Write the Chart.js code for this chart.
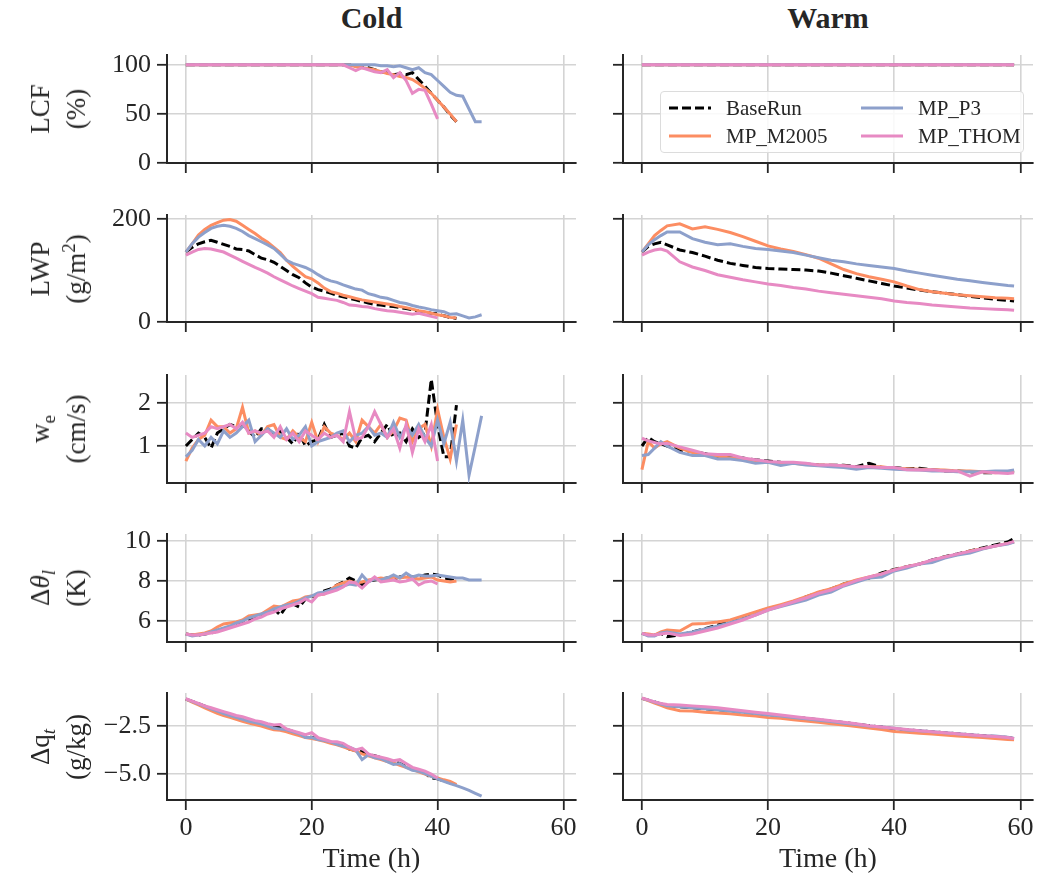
<!DOCTYPE html>
<html>
<head>
<meta charset="UTF-8">
<title>Cold / Warm microphysics runs</title>
<script src="https://cdn.jsdelivr.net/npm/chart.js@4.4.0/dist/chart.umd.min.js"></script>
<style>
    body { margin: 0; background: #fff; font-family: 'Liberation Serif', 'Times New Roman', serif; color: #262626; }
    #fig { position: relative; width: 1039px; height: 883px; overflow: hidden; }
    canvas { position: absolute; }
    .title { position: absolute; font-weight: bold; font-size: 30px; transform: translate(-50%, -50%); white-space: nowrap; }
    .xlab { position: absolute; font-size: 28px; transform: translate(-50%, -50%); white-space: nowrap; }
    .ylab { position: absolute; font-size: 27px; line-height: 36px; text-align: center; white-space: nowrap;
            transform: translate(-50%, -50%) rotate(-90deg); }
    .ylab sub, .ylab sup { font-size: 70%; line-height: 0; }
    .legend { position: absolute; border: 1px solid #dcdcdc; border-radius: 4px; background: rgba(255,255,255,0.85); font-size: 21px; }
    .legend .item { position: absolute; white-space: nowrap; transform: translateY(-50%); }
    .legend svg { position: absolute; }
</style>
</head>
<body>
<div id="fig"></div>

<script>
    const seriesNames = ['BaseRun', 'MP_M2005', 'MP_P3', 'MP_THOM'];
    const seriesColors = ['#000000', '#fc8d62', '#8da0cb', '#e78ac3'];
    const seriesDash = [[9, 4], [], [], []];

    const xTicks = [0, 20, 40, 60];
    const hoursCold = [0,1,2,3,4,5,6,7,8,9,10,11,12,13,14,15,16,17,18,19,20,21,22,23,24,25,26,27,28,29,30,31,32,33,34,35,36,37,38,39,40,41,42,43,44,45,46,47];
    const hoursWarm = [0,1,2,3,4,6,8,10,12,14,16,18,20,22,24,26,28,30,32,34,36,38,40,42,44,46,48,50,52,54,56,58,59];
    const hoursWarmLcf = [0, 59];

    // LCF (%)
    const lcfTicks = [0, 50, 100];
    const lcfTickLabels = ['0', '50', '100'];
    const lcfColdBase  = [100,100,100,100,100,100,100,100,100,100,100,100,100,100,100,100,100,100,100,100,100,100,100,100,100,100,100,99,98,97,95,93,92,90,91,90,92,85,78,71,64,57,49,42];
    const lcfColdM2005 = [100,100,100,100,100,100,100,100,100,100,100,100,100,100,100,100,100,100,100,100,100,100,100,100,100,100,100,98,97,96,95,93,91,90,88,87,85,81,76,71,64,57,50,42];
    const lcfColdP3    = [100,100,100,100,100,100,100,100,100,100,100,100,100,100,100,100,100,100,100,100,100,100,100,100,100,100,100,100,100,100,100,99,99,98,99,97,95,97,92,90,84,78,72,69,68,55,42,42];
    const lcfColdThom  = [100,100,100,100,100,100,100,100,100,100,100,100,100,100,100,100,100,100,100,100,100,100,100,100,100,100,97,94,97,95,93,92,95,87,92,84,71,75,74,60,45];
    const lcfWarmBase  = [100, 100];
    const lcfWarmM2005 = [100, 100];
    const lcfWarmP3    = [100, 100];
    const lcfWarmThom  = [100, 100];

    // LWP (g/m2)
    const lwpTicks = [0, 200];
    const lwpTickLabels = ['0', '200'];
    const lwpColdBase  = [136,145,152,156,159,155,151,147,142,141,138,131,124,121,116,108,100,92,86,76,68,63,60,56,52,49,46,43,40,37,34,33,31,30,28,26,24,21,19,17,16,12,9,7];
    const lwpColdM2005 = [136,152,169,180,188,193,198,199,196,188,180,172,163,155,145,135,120,108,98,88,84,76,66,59,56,52,49,46,43,41,39,37,35,33,30,28,25,22,20,17,14,12,9,8];
    const lwpColdP3    = [136,152,165,174,182,186,188,186,182,176,168,162,156,150,143,132,120,114,110,106,100,92,85,80,77,72,68,64,62,55,52,48,46,42,38,36,32,29,27,24,22,20,15,16,12,8,10,14];
    const lwpColdThom  = [130,136,141,143,142,139,136,130,124,118,112,106,101,95,88,82,76,70,65,60,55,48,46,44,42,38,33,32,30,29,26,24,22,21,19,17,15,17,14,11,8];
    const lwpWarmBase  = [136,147,152,155,150,140,135,128,120,114,110,106,104,103,102,101,99,95,90,85,80,75,70,66,62,59,56,53,50,47,44,42,41];
    const lwpWarmM2005 = [136,152,168,178,187,191,181,185,180,174,166,157,148,142,137,131,124,113,102,94,88,83,78,70,63,59,56,53,51,49,47,46,45];
    const lwpWarmP3    = [136,150,160,168,175,175,162,155,150,152,147,143,141,138,135,130,125,120,117,113,110,107,104,99,95,91,87,83,80,77,74,71,70];
    const lwpWarmThom  = [130,136,140,142,138,117,107,100,92,87,82,78,74,71,67,64,60,57,54,51,48,45,41,38,36,33,31,29,27,26,25,24,23];

    // entrainment rate w_e (cm/s)
    const weTicks = [1, 2];
    const weTickLabels = ['1', '2'];
    const weColdBase  = [1.0,1.15,1.3,1.2,0.95,1.3,1.4,1.5,1.45,1.5,1.35,1.2,1.4,1.4,1.25,1.35,1.2,1.05,1.3,1.0,1.1,1.15,1.5,1.2,1.25,1.3,1.0,0.95,1.2,1.25,1.1,1.3,1.5,1.2,1.3,1.1,1.4,1.2,1.3,2.55,1.5,0.75,0.75,1.95];
    const weColdM2005 = [0.65,0.95,1.15,1.25,1.6,1.45,1.45,1.3,1.4,1.9,1.3,1.35,1.25,1.45,1.5,1.2,1.15,1.35,1.2,1.1,1.55,1.1,1.45,1.3,1.25,1.15,1.3,1.1,1.6,1.45,1.3,1.5,1.2,1.35,1.65,1.6,1.1,1.4,1.5,1.0,1.85,1.2,0.7,1.5];
    const weColdP3    = [0.75,0.9,1.15,1.0,1.2,1.05,1.35,1.2,1.3,1.45,1.6,1.1,1.25,1.4,1.3,1.2,1.4,1.15,1.25,1.45,1.0,1.1,1.15,1.2,1.3,1.35,1.1,1.25,1.3,1.45,1.25,1.3,1.2,1.55,1.2,1.45,1.25,1.5,1.2,1.0,1.6,1.05,1.55,0.65,1.6,0.32,1.0,1.7];
    const weColdThom  = [1.3,1.2,1.25,1.3,1.45,1.4,1.45,1.5,1.4,1.55,1.3,1.35,1.3,1.35,1.2,1.45,1.15,1.3,1.1,1.35,1.25,1.15,1.3,1.2,1.25,1.1,1.8,1.15,1.2,1.45,1.8,1.5,1.2,1.4,0.95,1.5,0.85,1.4,1.1,1.5,0.65];
    const weWarmBase  = [1.0,1.2,1.1,1.05,1.0,0.9,0.88,0.82,0.75,0.72,0.72,0.68,0.65,0.62,0.6,0.58,0.56,0.55,0.55,0.52,0.6,0.5,0.5,0.47,0.48,0.45,0.42,0.42,0.4,0.38,0.38,0.4,0.42];
    const weWarmM2005 = [0.45,1.1,0.95,1.05,1.1,0.95,0.85,0.8,0.76,0.72,0.7,0.66,0.62,0.6,0.6,0.57,0.56,0.55,0.54,0.5,0.52,0.52,0.48,0.47,0.46,0.45,0.44,0.42,0.42,0.4,0.38,0.4,0.4];
    const weWarmP3    = [0.78,0.8,0.95,1.1,1.0,0.85,0.78,0.78,0.7,0.7,0.66,0.6,0.62,0.55,0.6,0.56,0.54,0.52,0.5,0.46,0.5,0.48,0.46,0.45,0.44,0.42,0.42,0.4,0.4,0.4,0.42,0.42,0.44];
    const weWarmThom  = [1.18,1.12,1.08,1.05,1.06,0.98,0.9,0.82,0.8,0.8,0.72,0.68,0.64,0.62,0.62,0.6,0.56,0.56,0.54,0.52,0.52,0.5,0.5,0.45,0.44,0.45,0.42,0.42,0.3,0.4,0.38,0.36,0.38];

    // inversion jump of theta_l (K)
    const dthTicks = [6, 8, 10];
    const dthTickLabels = ['6', '8', '10'];
    const dthColdBase  = [5.35,5.3,5.3,5.35,5.4,5.5,5.6,5.7,5.8,5.95,6.05,6.15,6.3,6.45,6.6,6.3,6.75,6.85,6.7,7.1,7.2,7.35,7.5,7.6,7.8,7.95,8.15,8.0,7.8,8.0,8.05,8.1,8.15,8.1,8.2,8.25,8.2,8.2,8.3,8.35,8.3,8.15,8.1,8.05];
    const dthColdM2005 = [5.35,5.3,5.35,5.4,5.5,5.7,5.85,5.9,5.95,6.05,6.25,6.3,6.35,6.55,6.75,6.7,6.85,7.0,7.05,7.2,7.25,7.3,7.35,7.55,7.8,7.9,8.0,7.9,7.95,8.05,8.1,8.15,8.1,8.2,8.15,8.2,8.15,8.1,8.15,8.2,8.05,8.0,7.95,8.0];
    const dthColdP3    = [5.35,5.25,5.3,5.35,5.45,5.55,5.65,5.75,5.9,6.0,6.15,6.25,6.35,6.45,6.6,6.7,6.8,6.85,7.0,7.15,7.25,7.4,7.45,7.55,7.65,7.75,7.85,7.8,8.3,7.95,8.1,8.05,8.15,8.3,8.15,8.4,8.2,8.3,8.25,8.25,8.3,8.25,8.2,8.15,8.15,8.05,8.05,8.05];
    const dthColdThom  = [5.35,5.3,5.3,5.35,5.4,5.45,5.55,5.65,5.75,5.85,5.95,6.1,6.2,6.35,6.45,6.6,6.7,6.8,6.9,7.1,6.95,7.3,7.35,7.45,7.55,7.7,7.95,7.9,7.65,7.95,8.2,7.95,8.0,8.05,7.95,8.0,8.1,7.8,7.95,8.0,7.85];
    const dthWarmBase  = [5.38,5.3,5.3,5.38,5.22,5.3,5.45,5.62,5.8,6.0,6.2,6.42,6.62,6.78,6.95,7.2,7.42,7.6,7.85,8.02,8.15,8.4,8.58,8.72,8.85,9.05,9.22,9.35,9.5,9.65,9.8,9.95,10.13];
    const dthWarmM2005 = [5.38,5.35,5.3,5.45,5.55,5.5,5.85,5.88,5.95,6.05,6.25,6.45,6.65,6.82,7.0,7.22,7.45,7.62,7.85,8.05,8.2,8.35,8.55,8.72,8.85,9.02,9.2,9.32,9.5,9.62,9.75,9.88,9.95];
    const dthWarmP3    = [5.38,5.25,5.25,5.4,5.45,5.35,5.45,5.6,5.75,5.92,6.1,6.3,6.55,6.72,6.88,7.05,7.3,7.45,7.75,7.95,8.15,8.2,8.5,8.65,8.85,8.92,9.15,9.3,9.4,9.6,9.75,9.85,9.95];
    const dthWarmThom  = [5.38,5.3,5.3,5.35,5.4,5.28,5.35,5.5,5.65,5.85,6.05,6.3,6.55,6.75,6.95,7.15,7.38,7.55,7.78,8.02,8.2,8.35,8.55,8.72,8.85,9.05,9.2,9.35,9.48,9.62,9.75,9.88,9.98];

    // inversion jump of q_t (g/kg)
    const dqTicks = [-5, -2.5];
    const dqTickLabels = ['\u22125.0', '\u22122.5'];
    const dqColdBase  = [-1.1,-1.22,-1.34,-1.46,-1.58,-1.7,-1.8,-1.9,-2.0,-2.08,-2.2,-2.28,-2.35,-2.45,-2.5,-2.6,-2.68,-2.78,-2.88,-3.0,-3.1,-3.15,-3.25,-3.35,-3.42,-3.55,-3.7,-3.78,-3.85,-3.98,-4.05,-4.15,-4.25,-4.35,-4.45,-4.62,-4.72,-4.8,-4.95,-5.2,-5.25,-5.35,-5.45,-5.55];
    const dqColdM2005 = [-1.1,-1.25,-1.4,-1.55,-1.7,-1.84,-1.95,-2.05,-2.15,-2.25,-2.35,-2.42,-2.5,-2.6,-2.7,-2.72,-2.8,-2.9,-3.0,-3.1,-3.15,-3.22,-3.3,-3.4,-3.48,-3.58,-3.7,-3.8,-3.95,-4.05,-4.15,-4.25,-4.35,-4.42,-4.55,-4.65,-4.75,-4.88,-5.0,-5.12,-5.2,-5.3,-5.38,-5.55];
    const dqColdP3    = [-1.1,-1.22,-1.35,-1.48,-1.6,-1.72,-1.85,-1.95,-2.05,-2.15,-2.25,-2.32,-2.4,-2.5,-2.62,-2.65,-2.7,-2.8,-2.9,-3.1,-3.1,-3.2,-3.25,-3.32,-3.45,-3.55,-3.6,-3.75,-4.25,-4.0,-4.15,-4.2,-4.35,-4.5,-4.45,-4.65,-4.8,-4.85,-4.98,-5.12,-5.25,-5.38,-5.5,-5.6,-5.72,-5.85,-6.0,-6.15];
    const dqColdThom  = [-1.08,-1.2,-1.32,-1.45,-1.55,-1.65,-1.75,-1.85,-1.95,-2.02,-2.12,-2.22,-2.28,-2.38,-2.45,-2.42,-2.65,-2.75,-2.85,-2.95,-2.85,-3.1,-3.2,-3.3,-3.32,-3.4,-3.6,-3.75,-3.65,-3.95,-4.05,-4.12,-4.2,-4.3,-4.25,-4.45,-4.65,-4.75,-4.85,-5.0,-5.2];
    const dqWarmBase  = [-1.06,-1.15,-1.25,-1.35,-1.42,-1.5,-1.55,-1.6,-1.65,-1.7,-1.78,-1.85,-1.92,-1.98,-2.05,-2.1,-2.18,-2.25,-2.32,-2.4,-2.48,-2.55,-2.65,-2.7,-2.75,-2.8,-2.85,-2.9,-2.95,-3.0,-3.05,-3.1,-3.15];
    const dqWarmM2005 = [-1.06,-1.17,-1.3,-1.42,-1.55,-1.7,-1.72,-1.78,-1.82,-1.86,-1.92,-1.98,-2.05,-2.1,-2.17,-2.24,-2.3,-2.38,-2.45,-2.52,-2.6,-2.68,-2.78,-2.82,-2.88,-2.92,-2.97,-3.02,-3.06,-3.1,-3.15,-3.2,-3.22];
    const dqWarmP3    = [-1.06,-1.15,-1.25,-1.35,-1.45,-1.5,-1.55,-1.6,-1.65,-1.72,-1.78,-1.85,-1.92,-1.98,-2.05,-2.12,-2.2,-2.27,-2.35,-2.42,-2.5,-2.55,-2.62,-2.7,-2.75,-2.8,-2.85,-2.9,-2.95,-3.0,-3.02,-3.08,-3.15];
    const dqWarmThom  = [-1.04,-1.14,-1.24,-1.32,-1.38,-1.4,-1.45,-1.5,-1.55,-1.62,-1.7,-1.78,-1.85,-1.92,-2.0,-2.08,-2.15,-2.22,-2.3,-2.38,-2.48,-2.55,-2.62,-2.68,-2.75,-2.8,-2.85,-2.9,-2.95,-3.0,-3.05,-3.1,-3.15];

    // 行ごとの設定（位置・軸範囲）
    const rows = [
        { top: 55,  bottom: 163, min: 0,    max: 110,   ticks: lcfTicks, tickLabels: lcfTickLabels,
          label: ['LCF', '(%)'],
          cold: [lcfColdBase, lcfColdM2005, lcfColdP3, lcfColdThom],
          warm: [lcfWarmBase, lcfWarmM2005, lcfWarmP3, lcfWarmThom], warmHours: hoursWarmLcf },
        { top: 215, bottom: 322, min: 0,    max: 208,   ticks: lwpTicks, tickLabels: lwpTickLabels,
          label: ['LWP', '(g/m<sup>2</sup>)'],
          cold: [lwpColdBase, lwpColdM2005, lwpColdP3, lwpColdThom],
          warm: [lwpWarmBase, lwpWarmM2005, lwpWarmP3, lwpWarmThom] },
        { top: 375, bottom: 483, min: 0.14, max: 2.65,  ticks: weTicks, tickLabels: weTickLabels,
          label: ['w<sub>e</sub>', '(cm/s)'],
          cold: [weColdBase, weColdM2005, weColdP3, weColdThom],
          warm: [weWarmBase, weWarmM2005, weWarmP3, weWarmThom] },
        { top: 534, bottom: 642, min: 4.95, max: 10.35, ticks: dthTicks, tickLabels: dthTickLabels,
          label: ['\u0394<i>\u03b8</i><sub><i>l</i></sub>', '(K)'],
          cold: [dthColdBase, dthColdM2005, dthColdP3, dthColdThom],
          warm: [dthWarmBase, dthWarmM2005, dthWarmP3, dthWarmThom] },
        { top: 693, bottom: 800, min: -6.35, max: -0.78, ticks: dqTicks, tickLabels: dqTickLabels,
          label: ['\u0394q<sub><i>t</i></sub>', '(g/kg)'],
          cold: [dqColdBase, dqColdM2005, dqColdP3, dqColdThom],
          warm: [dqWarmBase, dqWarmM2005, dqWarmP3, dqWarmThom] }
    ];

    const cols = [
        { key: 'cold', title: 'Cold', canvasLeft: 90,  canvasRight: 590,  plotLeft: 167, plotRight: 576, yLabels: true },
        { key: 'warm', title: 'Warm', canvasLeft: 611, canvasRight: 1039, plotLeft: 623, plotRight: 1033, yLabels: false }
    ];

    Chart.defaults.font.family = "'Liberation Serif', 'Times New Roman', serif";
    Chart.defaults.font.size = 26;
    Chart.defaults.color = '#262626';

    const gridStyle = { color: '#d4d4d4', lineWidth: 1.6, tickColor: '#262626', tickLength: 10, tickWidth: 1.8, drawTicks: true };
    const borderStyle = { display: true, color: '#262626', width: 2 };

    const fig = document.getElementById('fig');

    rows.forEach((row, r) => {
        const last = r === rows.length - 1;
        cols.forEach(col => {
            const padTop = 14;
            const xAxisH = last ? 58 : 16;
            const w = col.canvasRight - col.canvasLeft;
            const h = padTop + (row.bottom - row.top) + xAxisH;
            const canvas = document.createElement('canvas');
            canvas.width = w;
            canvas.height = h;
            canvas.style.left = col.canvasLeft + 'px';
            canvas.style.top = (row.top - padTop) + 'px';
            canvas.style.width = w + 'px';
            canvas.style.height = h + 'px';
            fig.appendChild(canvas);

            const hours = col.key === 'cold' ? hoursCold : (row.warmHours || hoursWarm);
            const datasets = seriesNames.map((name, i) => ({
                label: name,
                data: row[col.key][i].map((v, k) => ({ x: hours[k], y: v })),
                borderColor: seriesColors[i],
                borderDash: seriesDash[i],
                borderWidth: 3,
                pointRadius: 0,
                tension: 0,
                fill: false,
                order: 4 - i
            }));

            new Chart(canvas, {
                type: 'line',
                data: { datasets },
                options: {
                    responsive: false,
                    animation: false,
                    devicePixelRatio: 1,
                    layout: { padding: { top: padTop, right: col.canvasRight - col.plotRight, left: 0, bottom: 0 } },
                    plugins: { legend: { display: false }, tooltip: { enabled: false } },
                    scales: {
                        x: {
                            type: 'linear', min: -3, max: 62,
                            afterBuildTicks: s => { s.ticks = xTicks.map(v => ({ value: v })); },
                            afterFit: s => { s.height = xAxisH; s.paddingLeft = 0; s.paddingRight = 0; },
                            grid: gridStyle, border: borderStyle,
                            ticks: { display: last, padding: 3, autoSkip: false, maxRotation: 0, callback: v => String(v) }
                        },
                        y: {
                            type: 'linear', min: row.min, max: row.max,
                            afterBuildTicks: s => { s.ticks = row.ticks.map(v => ({ value: v })); },
                            // 目盛りラベルの上下の余白でプロット領域が縮まないようにする
                            afterFit: s => { s.width = col.plotLeft - col.canvasLeft; s.paddingTop = 0; s.paddingBottom = 0; },
                            grid: gridStyle, border: borderStyle,
                            ticks: { display: col.yLabels, padding: 6, autoSkip: false, callback: (v, i) => row.tickLabels[i] }
                        }
                    }
                }
            });
        });

        // 縦軸ラベル
        const yl = document.createElement('div');
        yl.className = 'ylab';
        yl.style.left = '58px';
        yl.style.top = ((row.top + row.bottom) / 2) + 'px';
        yl.innerHTML = row.label.join('<br>');
        fig.appendChild(yl);
    });

    cols.forEach(col => {
        const cx = (col.plotLeft + col.plotRight) / 2;
        const t = document.createElement('div');
        t.className = 'title';
        t.style.left = cx + 'px';
        t.style.top = '18px';
        t.textContent = col.title;
        fig.appendChild(t);

        const xl = document.createElement('div');
        xl.className = 'xlab';
        xl.style.left = cx + 'px';
        xl.style.top = '858px';
        xl.textContent = 'Time (h)';
        fig.appendChild(xl);
    });

    // 凡例（右上のパネル内、2列）
    const legend = document.createElement('div');
    legend.className = 'legend';
    legend.style.left = '660px';
    legend.style.top = '91px';
    legend.style.width = '362px';
    legend.style.height = '60px';
    const legendSpots = [[8, 16], [8, 44], [200, 16], [200, 44]];
    seriesNames.forEach((name, i) => {
        const [lx, ly] = legendSpots[i];
        const dash = seriesDash[i].length ? ` stroke-dasharray="${seriesDash[i].join(' ')}"` : '';
        legend.insertAdjacentHTML('beforeend',
            `<svg width="42" height="6" style="left:${lx}px;top:${ly - 3}px">` +
            `<line x1="0" y1="3" x2="42" y2="3" stroke="${seriesColors[i]}" stroke-width="3"${dash}/></svg>` +
            `<div class="item" style="left:${lx + 57}px;top:${ly}px">${name}</div>`);
    });
    fig.appendChild(legend);
</script>
</body>
</html>
